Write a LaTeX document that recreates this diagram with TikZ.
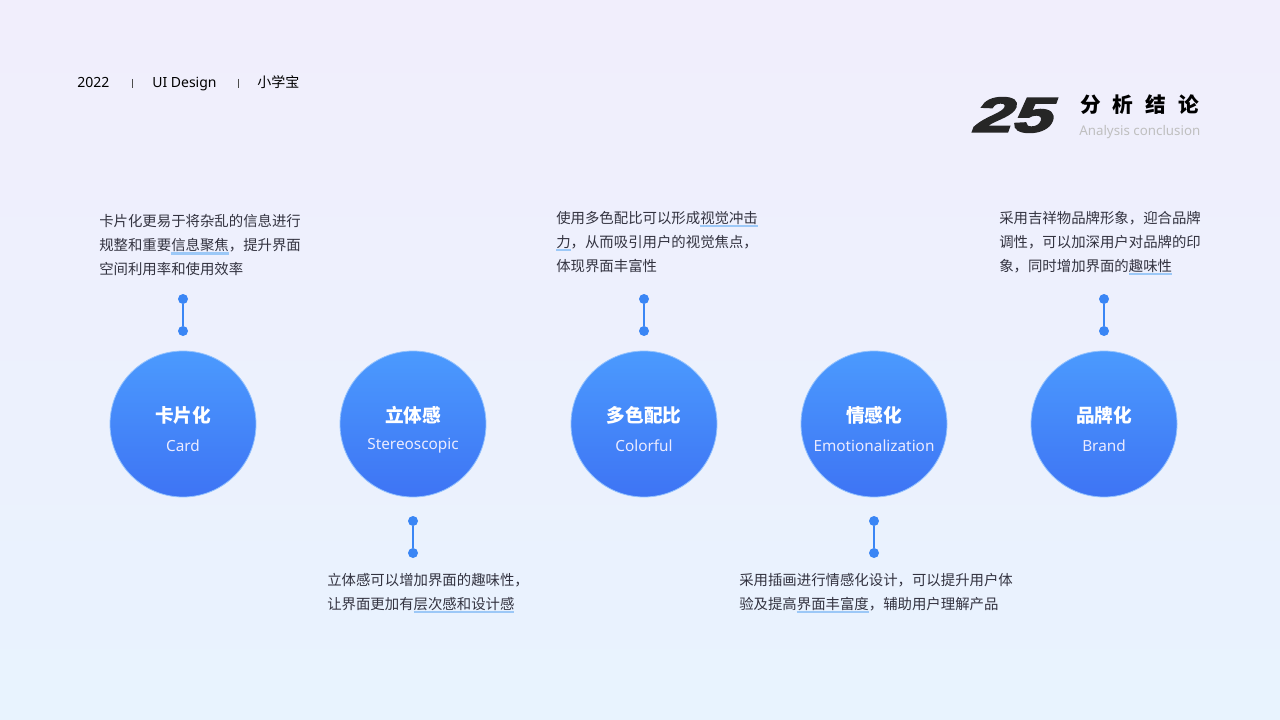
\documentclass[tikz,border=0pt]{standalone}
\usepackage{fontspec}
\setmainfont{Noto Sans CJK SC}
\newfontfamily\logofont[FakeSlant=0.25,FakeBold=3]{Liberation Sans Bold}
\newfontfamily\latinfont{Noto Sans}
\definecolor{bgtop}{HTML}{F1EEFC}
\definecolor{bgbot}{HTML}{E8F3FE}
\definecolor{ctop}{HTML}{4B9AFE}
\definecolor{cbot}{HTML}{3E74F4}
\definecolor{dotc}{HTML}{3A86F5}
\definecolor{txt}{HTML}{333340}
\definecolor{hlc}{HTML}{9CC8F7}
\newcommand\hl[1]{\setbox0\hbox{#1}\rlap{\raisebox{-3pt}{\color{hlc}\rule{\wd0}{1.8pt}}}\box0}
\tikzset{
  circ/.style={circle,minimum size=109.5pt,inner sep=0,draw=ctop!60!white,line width=0.6pt,top color=ctop,bottom color=cbot},
  desc/.style={anchor=north west,align=left,inner sep=0,font=\fontsize{10.8}{18}\selectfont,text=txt},
  dotn/.style={circle,fill=dotc,minimum size=7.5pt,inner sep=0},
  conn/.style={dotc,line width=1.4pt},
  ttl/.style={font=\bfseries\fontsize{14}{16}\selectfont,text=white},
  sub/.style={font=\latinfont\fontsize{11.5}{13}\selectfont,text=white!92!blue},
  hdr/.style={anchor=base west,inner sep=0,font=\latinfont\fontsize{10.5}{12}\selectfont,text=black},
}
\begin{document}
\begin{tikzpicture}[x=0.75pt,y=-0.75pt]
\shade[top color=bgtop,bottom color=bgbot] (0,0) rectangle (1280,720);
\useasboundingbox (0,0) rectangle (1280,720);
% header
\node[hdr] (hd) at (77,88) {2022};
\node[hdr] (hd2) at (152,88) {UI Design};
\node[hdr,font=\fontsize{10.5}{12}\selectfont] (hd3) at (257,88) {小学宝};
\draw[black!70,line width=0.6pt] (132,79) -- (132,88) (238,79) -- (238,88);
% title
\node[anchor=west,inner sep=0,font=\logofont\fontsize{37}{37}\selectfont,text=black!85] (num) at (970,115) {\scalebox{1.45}[1]{25}};
\node[anchor=west,inner sep=0,font=\bfseries\fontsize{15.5}{16}\selectfont,text=black] (tt) at (1080,105) {分\hspace{9pt}析\hspace{9pt}结\hspace{9pt}论};
\node[anchor=west,inner sep=0,font=\latinfont\fontsize{10}{12}\selectfont,text=black!25] (ts) at (1079,132) {Analysis conclusion};
% circles
\foreach \i/\x/\a/\b in {1/183/卡片化/Card,2/413/立体感/Stereoscopic,3/644/多色配比/Colorful,4/874/情感化/Emotionalization,5/1104/品牌化/Brand}{
  \node[circ] (c\i) at (\x,424) {};
  \node[ttl] (t\i) at (\x,415) {\a};
  \node[sub] (s\i) at (\x,446) {\b};
}
% connectors
\foreach \i/\x in {1/183,3/644,5/1104}{
  \node[dotn] (da\i) at (\x,299) {};
  \node[dotn] (db\i) at (\x,331) {};
  \draw[conn] (da\i) -- (db\i);
}
\foreach \i/\x in {2/413,4/874}{
  \node[dotn] (da\i) at (\x,521) {};
  \node[dotn] (db\i) at (\x,553) {};
  \draw[conn] (da\i) -- (db\i);
}
% descriptions
\node[desc] (d1) at (99,214) {卡片化更易于将杂乱的信息进行\\规整和重要\hl{信息聚焦}，提升界面\\空间利用率和使用效率};
\node[desc] (d2) at (327,573) {立体感可以增加界面的趣味性，\\让界面更加有\hl{层次感和设计感}};
\node[desc] (d3) at (556,211) {使用多色配比可以形成\hl{视觉冲击}\\\hl{力}，从而吸引用户的视觉焦点，\\体现界面丰富性};
\node[desc] (d4) at (739,573) {采用插画进行情感化设计，可以提升用户体\\验及提高\hl{界面丰富度}，辅助用户理解产品};
\node[desc] (d5) at (999,211) {采用吉祥物品牌形象，迎合品牌\\调性，可以加深用户对品牌的印\\象，同时增加界面的\hl{趣味性}};
\end{tikzpicture}
\end{document}
